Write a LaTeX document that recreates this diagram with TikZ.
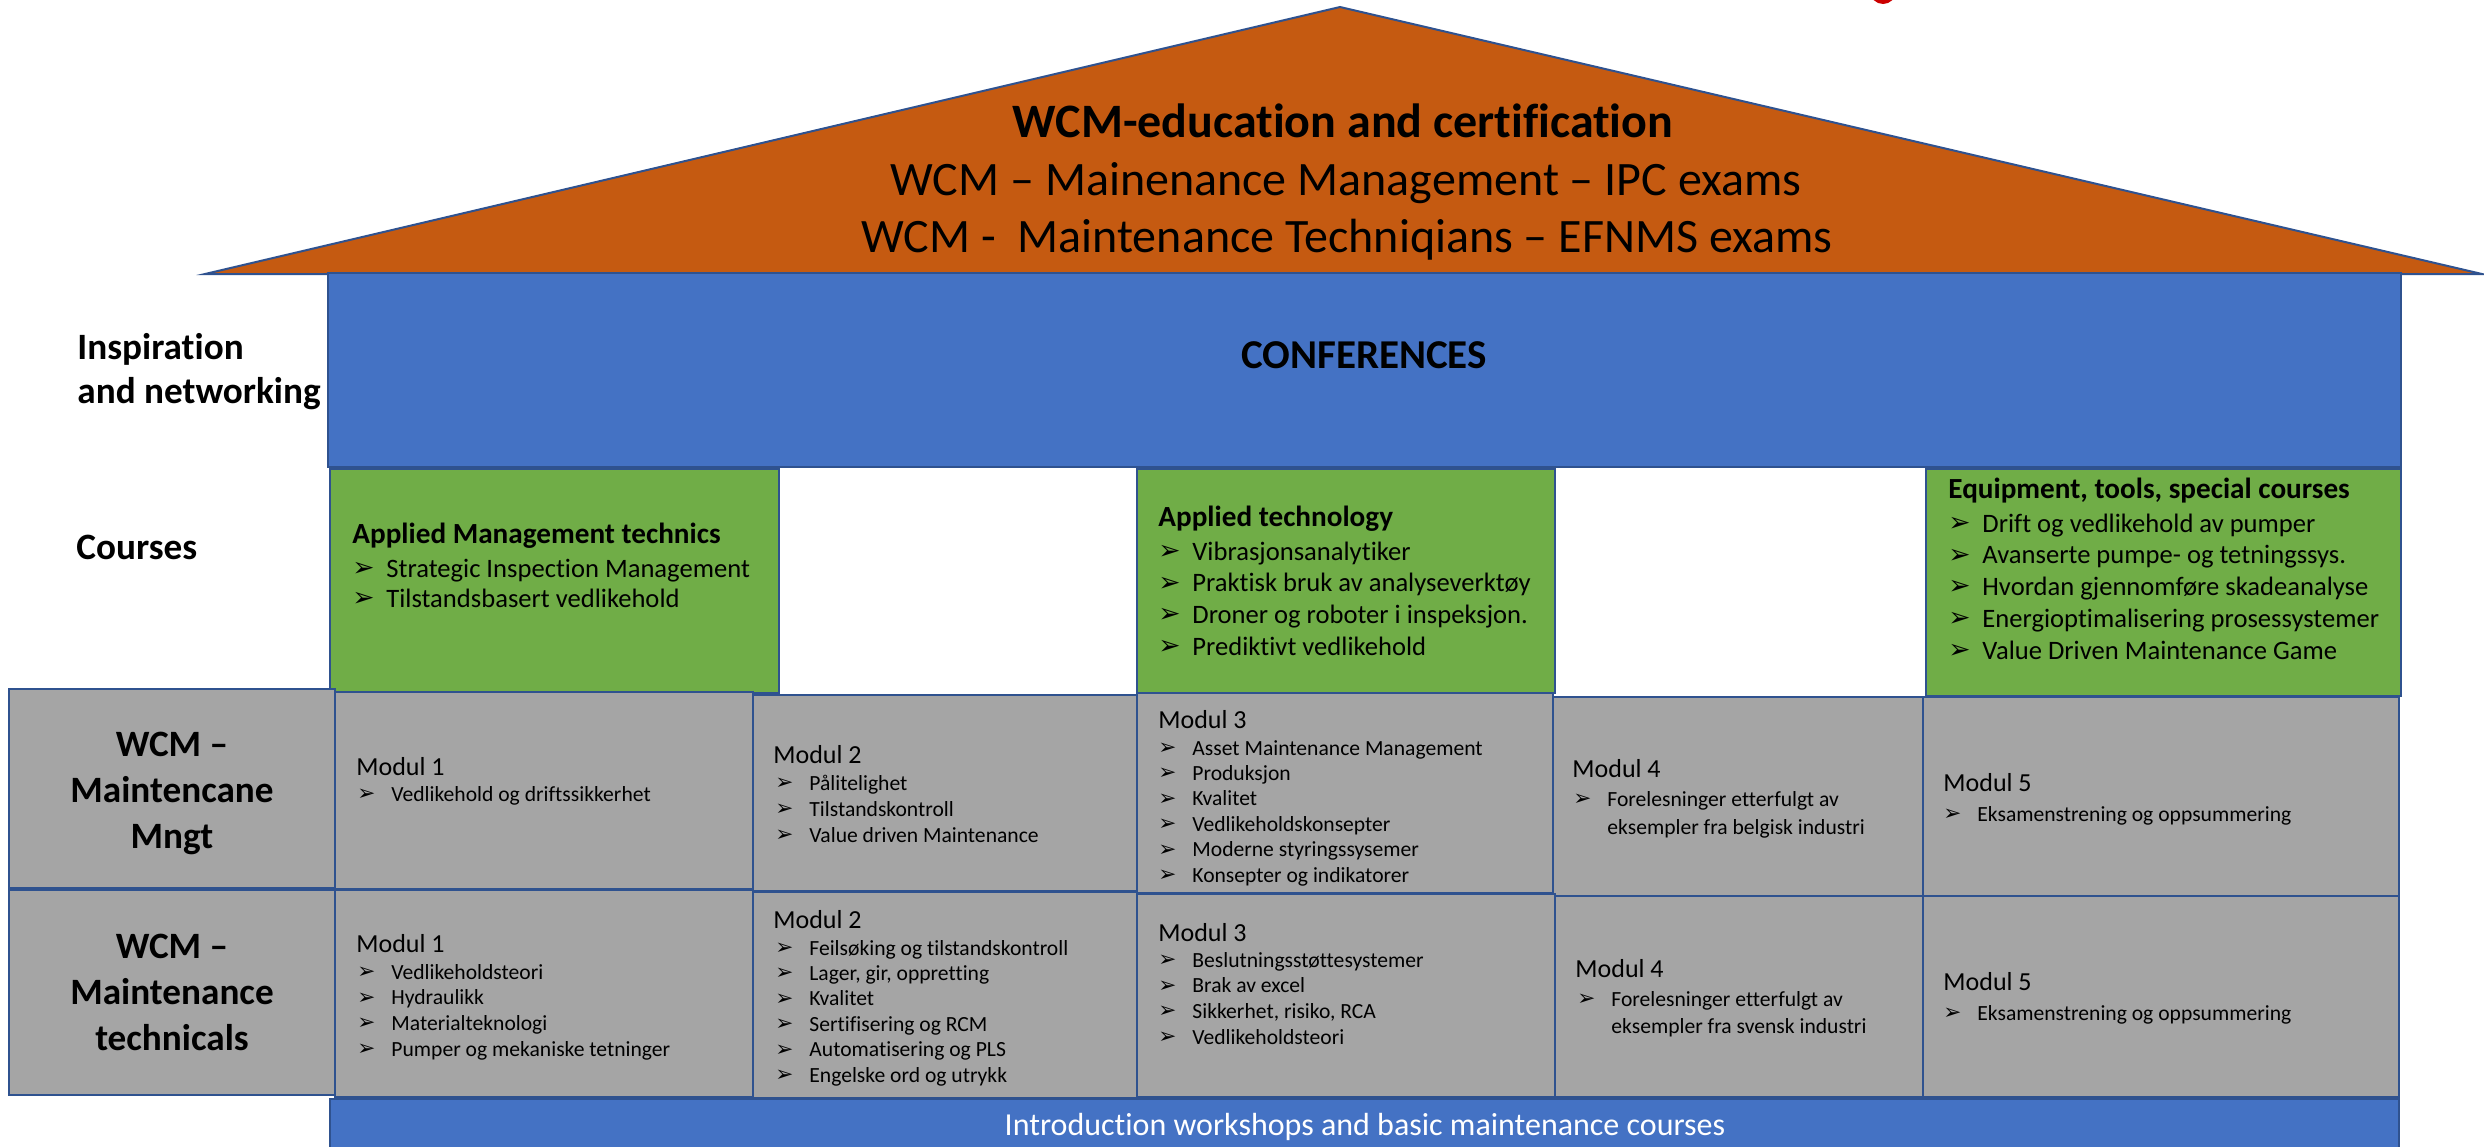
\documentclass[tikz,border=0pt]{standalone}
\usepackage{fontspec}
\setmainfont{Carlito}[Ligatures=NoCommon]
\newfontfamily\dejavu{DejaVu Sans}
\definecolor{roof}{HTML}{C55A11}
\definecolor{bblue}{HTML}{4472C4}
\definecolor{ggreen}{HTML}{70AD47}
\definecolor{ggray}{HTML}{A5A5A5}
\definecolor{edge}{HTML}{2F528F}
\newcommand\bul{\makebox[17pt][l]{\raisebox{0.02em}{\scalebox{1.0}{\dejavu ➢}}}}
\tikzset{
  boxbase/.style={draw=edge, line width=1.2pt},
  ln/.style={anchor=base west, inner sep=0pt},
  lc/.style={anchor=base, inner sep=0pt},
  itemfont/.style={font=\fontsize{10.8}{12}\selectfont},
  modfont/.style={font=\fontsize{13}{14}\selectfont},
  gitem/.style={font=\fontsize{13.3}{15}\selectfont},
  ghead/.style={font=\bfseries\fontsize{14.6}{16}\selectfont},
  sidefont/.style={font=\bfseries\fontsize{18.6}{20}\selectfont},
}
\newcommand\itemsat[6]{%
  \foreach \t [count=\i] in {#6} \node[ln, #5] (#1\i) at (#2, {#3+(\i-1)*#4}) {\bul\t};
}
\begin{document}
\begin{tikzpicture}[x=0.5pt, y=-0.5pt]
\useasboundingbox (0,0) rectangle (2484,1146);
\clip (0,0) rectangle (2484,1146);
% red mark at top
\fill[red!80!black] (1883,-9) circle (13);
% roof
\draw[boxbase, fill=roof, line width=1pt] (205,274) -- (1340,7) -- (2482,274) -- cycle;
\node[lc, font=\bfseries\fontsize{24}{26}\selectfont] (r1) at (1343,137) {WCM-education and certification};
\node[lc, font=\fontsize{24}{26}\selectfont] (r2) at (1346,195) {WCM -- Mainenance Management -- IPC exams};
\node[lc, font=\fontsize{24}{26}\selectfont] (r3) at (1347,252) {WCM -\ \ Maintenance Techniqians -- EFNMS exams};
% conferences
\draw[boxbase, fill=bblue] (328,273) rectangle (2401,467);
\node[lc, font=\bfseries\fontsize{20.5}{22}\selectfont] (conf) at (1364,368) {CONFERENCES};
\node[ln, sidefont] (insp1) at (77,359) {Inspiration};
\node[ln, sidefont] (insp2) at (77,403) {and networking};
\node[ln, sidefont] (courses) at (76,559) {Courses};
% green boxes
\draw[boxbase, fill=ggreen] (330,469) rectangle (779,693);
\draw[boxbase, fill=ggreen] (1137,469) rectangle (1555,693);
\draw[boxbase, fill=ggreen] (1926,469) rectangle (2401,696);
\node[ln, ghead] (g1h) at (352,543) {Applied Management technics};
\itemsat{g1i}{352}{577}{30}{gitem}{Strategic Inspection Management, Tilstandsbasert vedlikehold}
\node[ln, ghead] (g2h) at (1158,526) {Applied technology};
\itemsat{g2i}{1158}{560}{31.7}{gitem}{Vibrasjonsanalytiker, Praktisk bruk av analyseverktøy, Droner og roboter i inspeksjon., Prediktivt vedlikehold}
\node[ln, ghead] (g3h) at (1948,498) {Equipment, tools, special courses};
\itemsat{g3i}{1948}{532}{31.75}{gitem}{Drift og vedlikehold av pumper, Avanserte pumpe- og tetningssys., Hvordan gjennomføre skadeanalyse, Energioptimalisering prosessystemer, Value Driven Maintenance Game}
% row 1 gray boxes
\draw[boxbase, fill=ggray] (9,689) rectangle (335,888);
\draw[boxbase, fill=ggray] (335,692) rectangle (753,889);
\draw[boxbase, fill=ggray] (753,695) rectangle (1137,891);
\draw[boxbase, fill=ggray] (1137,693) rectangle (1553,893);
\draw[boxbase, fill=ggray] (1553,697) rectangle (1923,896);
\draw[boxbase, fill=ggray] (1923,697) rectangle (2399,896);
% row 2 gray boxes
\draw[boxbase, fill=ggray] (9,890) rectangle (335,1095);
\draw[boxbase, fill=ggray] (335,890) rectangle (753,1097);
\draw[boxbase, fill=ggray] (753,892) rectangle (1137,1098);
\draw[boxbase, fill=ggray] (1137,894) rectangle (1555,1097);
\draw[boxbase, fill=ggray] (1555,896) rectangle (1923,1097);
\draw[boxbase, fill=ggray] (1923,896) rectangle (2399,1097);
% bottom bar
\draw[boxbase, fill=bblue] (330,1099) rectangle (2399,1160);
\node[lc, font=\fontsize{16}{18}\selectfont, text=white] (intro) at (1365,1135) {Introduction workshops and basic maintenance courses};
% row 1 labels
\node[lc, sidefont] (wa1) at (172,756) {WCM --};
\node[lc, sidefont] (wa2) at (172,802) {Maintencane};
\node[lc, sidefont] (wa3) at (172,848) {Mngt};
\node[ln, modfont] (a1h) at (356,775) {Modul 1};
\itemsat{a1i}{357}{801}{25.5}{itemfont}{Vedlikehold og driftssikkerhet}
\node[ln, modfont] (a2h) at (773,763) {Modul 2};
\itemsat{a2i}{775}{790}{26}{itemfont}{Pålitelighet, Tilstandskontroll, Value driven Maintenance}
\node[ln, modfont] (a3h) at (1158,728) {Modul 3};
\itemsat{a3i}{1158}{755}{25.4}{itemfont}{Asset Maintenance Management, Produksjon, Kvalitet, Vedlikeholdskonsepter, Moderne styringssysemer, Konsepter og indikatorer}
\node[ln, modfont] (a4h) at (1572,777) {Modul 4};
\itemsat{a4i}{1573}{806}{28}{itemfont}{Forelesninger etterfulgt av}
\node[ln, itemfont] (a4x) at (1607,834) {eksempler fra belgisk industri};
\node[ln, modfont] (a5h) at (1943,791) {Modul 5};
\itemsat{a5i}{1943}{821}{25}{itemfont}{Eksamenstrening og oppsummering}
% row 2 labels
\node[lc, sidefont] (wb1) at (172,958) {WCM --};
\node[lc, sidefont] (wb2) at (172,1004) {Maintenance};
\node[lc, sidefont] (wb3) at (172,1050) {technicals};
\node[ln, modfont] (b1h) at (356,952) {Modul 1};
\itemsat{b1i}{357}{979}{25.7}{itemfont}{Vedlikeholdsteori, Hydraulikk, Materialteknologi, Pumper og mekaniske tetninger}
\node[ln, modfont] (b2h) at (773,928) {Modul 2};
\itemsat{b2i}{775}{955}{25.4}{itemfont}{Feilsøking og tilstandskontroll, {Lager, gir, oppretting}, Kvalitet, Sertifisering og RCM, Automatisering og PLS, Engelske ord og utrykk}
\node[ln, modfont] (b3h) at (1158,941) {Modul 3};
\itemsat{b3i}{1158}{967}{25.7}{itemfont}{Beslutningsstøttesystemer, Brak av excel, {Sikkerhet, risiko, RCA}, Vedlikeholdsteori}
\node[ln, modfont] (b4h) at (1575,977) {Modul 4};
\itemsat{b4i}{1577}{1006}{27}{itemfont}{Forelesninger etterfulgt av}
\node[ln, itemfont] (b4x) at (1611,1033) {eksempler fra svensk industri};
\node[ln, modfont] (b5h) at (1943,990) {Modul 5};
\itemsat{b5i}{1943}{1020}{25}{itemfont}{Eksamenstrening og oppsummering}
\end{tikzpicture}
\end{document}
